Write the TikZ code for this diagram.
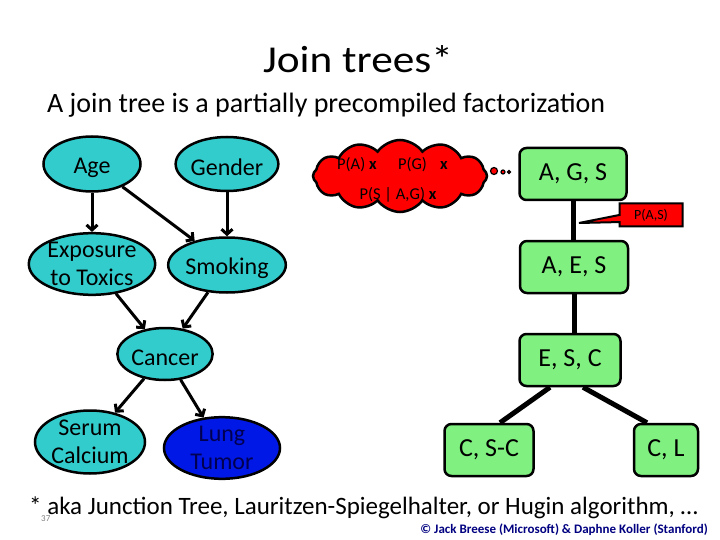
\documentclass[tikz,border=0pt]{standalone}
\usepackage{fontspec}
\setmainfont{Carlito}
\newfontfamily\titlefont[FakeStretch=1.14]{Carlito}
\usetikzlibrary{shapes.geometric,shapes.symbols,shapes.callouts,arrows.meta}
\definecolor{teal1}{RGB}{51,204,204}
\definecolor{lung}{RGB}{0,24,230}
\definecolor{lungtext}{RGB}{0,0,80}
\definecolor{jgreen}{RGB}{128,240,128}
\definecolor{navy1}{RGB}{0,0,128}
\begin{document}
\begin{tikzpicture}[x=1pt,y=-1pt,
 bn/.style={ellipse,draw=black,line width=2.5pt,fill=teal1,inner sep=0pt,execute at begin node={\rule{0pt}{24pt}},font=\fontsize{24}{28}\selectfont,align=center},
 jt/.style={rectangle,rounded corners=7pt,draw=black,line width=2.5pt,fill=jgreen,inner sep=0pt,minimum height=52pt,font=\fontsize{26}{30}\selectfont},
 arr/.style={line width=3pt,-{Straight Barb[length=5pt,width=11pt]}},
 tl/.style={line width=5pt},
 bub/.style={circle,fill=red,draw=black,line width=1.2pt,inner sep=0pt}]
\useasboundingbox (0,0) rectangle (720,540);
% titles
\node[anchor=base,font=\titlefont\fontsize{38}{44}\selectfont,inner sep=0pt] (title) at (358,73) {Join trees*};
\node[anchor=base west,font=\fontsize{28}{32}\selectfont,inner sep=0pt] (sub) at (47,113) {A join tree is a partially precompiled factorization};
% Bayes net
\node[bn,minimum width=97pt,minimum height=55pt] (age) at (92,164) {Age};
\node[bn,minimum width=97pt,minimum height=54pt] (gen) at (227,164) {Gender};
\node[bn,minimum width=107pt,minimum height=58pt] (exp) at (92,264) {Exposure\\to Toxics};
\node[bn,minimum width=98pt,minimum height=55pt] (smk) at (227,265) {Smoking};
\node[bn,minimum width=93pt,minimum height=52pt] (can) at (165,354) {Cancer};
\node[bn,minimum width=110pt,minimum height=63pt] (ser) at (90,442) {Serum\\Calcium};
\node[bn,minimum width=116pt,minimum height=55pt,fill=lung,text=lungtext] (lun) at (222,448) {Lung\\Tumor};
\draw[arr] (age) -- (exp);
\draw[arr] (age) -- (smk);
\draw[arr] (gen) -- (smk);
\draw[arr] (exp) -- (can);
\draw[arr] (smk) -- (can);
\draw[arr] (can) -- (ser);
\draw[arr] (can) -- (lun);
% cloud
\node[cloud,cloud puffs=12,cloud puff arc=110,aspect=2.5,minimum width=174pt,minimum height=72pt,fill=red,draw=black,line width=2.5pt] (cl) at (400,176) {};
\node[bub,minimum size=7pt] (b1) at (494,171) {};
\node[bub,minimum size=4pt] (b2) at (503,172) {};
\node[bub,minimum size=3pt] (b3) at (509,172) {};
\node[anchor=base west,font=\fontsize{16.5}{18}\selectfont,inner sep=0pt] (ct1) at (337,170) {P(A) \textbf{x}\hspace{1.3em}P(G)\hspace{0.8em}\textbf{x}};
\node[anchor=base,font=\fontsize{16.5}{18}\selectfont,inner sep=0pt] (ct2) at (398,200) {P(S | A,G) \textbf{x}};
% join tree
\node[jt,minimum width=107pt] (ags) at (573,174) {A, G, S};
\node[jt,minimum width=108pt] (aes) at (574,267) {A, E, S};
\node[jt,minimum width=101pt] (esc) at (570,360) {E, S, C};
\node[jt,minimum width=89pt] (csc) at (489,450) {C, S-C};
\node[jt,minimum width=64pt] (cl2) at (666,450) {C, L};
\draw[tl] (ags.south) -- (ags.south |- aes.north);
\draw[tl] (aes.south) -- (aes.south |- esc.north);
\draw[tl] ([xshift=-20pt]esc.south) -- ([xshift=11pt]csc.north);
\draw[tl] ([xshift=13pt]esc.south) -- ([xshift=-19pt]cl2.north);
\coordinate (ptr) at (579,223);
\node[rectangle callout,callout absolute pointer={(ptr)},fill=red,draw=black,line width=2pt,minimum width=63pt,minimum height=23pt,inner sep=0pt,font=\fontsize{14}{16}\selectfont] (pas) at (651,215) {P(A,S)};
% footer
\node[anchor=base west,font=\fontsize{25}{28}\selectfont,inner sep=0pt] (foot) at (29,514) {* aka Junction Tree, Lauritzen-Spiegelhalter, or Hugin algorithm, …};
\node[anchor=base west,font=\fontsize{9}{10}\selectfont,text=gray,inner sep=0pt] (pg) at (41,521) {37};
\node[anchor=base east,font=\bfseries\fontsize{13}{15}\selectfont,text=navy1,inner sep=0pt] (copy) at (708,533) {© Jack Breese (Microsoft) \& Daphne Koller (Stanford)};
\end{tikzpicture}
\end{document}
